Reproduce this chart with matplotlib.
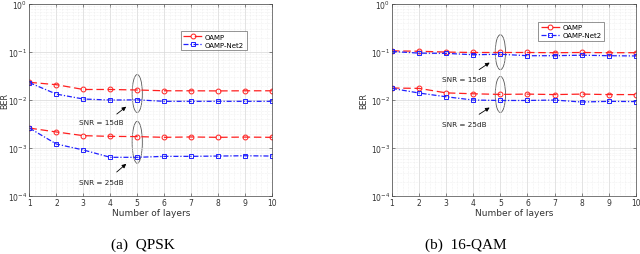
import numpy as np
import matplotlib.pyplot as plt
from matplotlib.patches import Ellipse
from matplotlib.ticker import LogLocator, MultipleLocator, NullFormatter

layers = [1, 2, 3, 4, 5, 6, 7, 8, 9, 10]

# (a) QPSK
qpsk_oamp_15 = [0.0234, 0.0209, 0.0166, 0.0166, 0.0162, 0.0156, 0.0156, 0.0155, 0.0156, 0.0156]
qpsk_net2_15 = [0.0230, 0.0133, 0.0105, 0.0100, 0.0101, 0.0094, 0.0094, 0.0094, 0.0094, 0.0094]
qpsk_oamp_25 = [0.0026, 0.00216, 0.00181, 0.00175, 0.00173, 0.00167, 0.00170, 0.00167, 0.00169, 0.00167]
qpsk_net2_25 = [0.0026, 0.00121, 0.00091, 0.00064, 0.00064, 0.00067, 0.00067, 0.00068, 0.00069, 0.00068]

# (b) 16-QAM
qam_oamp_15 = [0.106, 0.104, 0.100, 0.098, 0.098, 0.098, 0.097, 0.098, 0.097, 0.097]
qam_net2_15 = [0.103, 0.095, 0.094, 0.088, 0.090, 0.084, 0.084, 0.086, 0.084, 0.083]
qam_oamp_25 = [0.0178, 0.0175, 0.0141, 0.0135, 0.0131, 0.0133, 0.0130, 0.0133, 0.0130, 0.0130]
qam_net2_25 = [0.0175, 0.0140, 0.0117, 0.0100, 0.0098, 0.0098, 0.0100, 0.0091, 0.0094, 0.0093]


def style_axis(ax, ylabel_x):
    ax.set_yscale('log')
    ax.set_xlim(1, 10)
    ax.set_ylim(1e-4, 1)
    ax.set_xticks(layers)
    ax.xaxis.set_minor_locator(MultipleLocator(0.2))
    ax.yaxis.set_major_locator(LogLocator(base=10, numticks=10))
    ax.yaxis.set_minor_locator(LogLocator(base=10, subs=np.arange(2, 10), numticks=20))
    ax.yaxis.set_minor_formatter(NullFormatter())
    ax.grid(True, which='major', color='#d8d8d8', lw=0.5, ls='-')
    ax.grid(True, which='minor', color='#e4e4e4', lw=0.4, ls=':')
    ax.tick_params(which='both', direction='in', top=True, right=True,
                   labelsize=5.5, length=2, width=0.4, colors='#333333', pad=1.5)
    ax.tick_params(which='minor', length=0)
    for s in ax.spines.values():
        s.set_linewidth(0.5)
        s.set_color('#444444')
    ax.set_xlabel('Number of layers', fontsize=6.5, color='#333333', labelpad=1)
    ax.set_ylabel('BER', fontsize=5.8, color='#333333')
    ax.yaxis.set_label_coords(ylabel_x, 0.5)


def draw_series(ax, oamp, net2, first):
    kw_o = dict(color='#ff2020', ls=(0, (6, 3)), lw=0.9, marker='o', ms=3.5,
                mfc='none', mew=0.7)
    kw_n = dict(color='#2020ff', ls=(0, (4, 1.5, 1, 1.5)), lw=0.9, marker='s', ms=3,
                mfc='none', mew=0.7)
    ax.plot(layers, oamp, label='OAMP' if first else None, **kw_o)
    ax.plot(layers, net2, label='OAMP-Net2' if first else None, **kw_n)


def ellipse_logy(ax, x, ylo, yhi):
    # ellipse in axes-fraction coordinates so it stays elliptical on log axis
    fx = (x - 1) / 9
    flo = (np.log10(ylo) + 4) / 4
    fhi = (np.log10(yhi) + 4) / 4
    ax.add_patch(Ellipse((fx, (flo + fhi) / 2), width=0.042, height=fhi - flo,
                         transform=ax.transAxes, fill=False, ec='#555555', lw=0.6))


def arrow_label(ax, text, tip, tail, label_xy):
    ax.annotate('', xy=tip, xytext=tail, xycoords='data', textcoords='data',
                arrowprops=dict(arrowstyle='-|>', color='black', lw=0.6,
                                mutation_scale=6))
    ax.text(label_xy[0], label_xy[1], text, fontsize=5.2, ha='center', va='center',
            color='#222222')


fig = plt.figure(figsize=(6.4, 2.55), dpi=100)
ax1 = fig.add_axes([0.046, 0.2275, 0.379, 0.7525])
ax2 = fig.add_axes([0.6125, 0.2275, 0.381, 0.7525])

style_axis(ax1, -0.085)
style_axis(ax2, -0.098)

draw_series(ax1, qpsk_oamp_15, qpsk_net2_15, True)
draw_series(ax1, qpsk_oamp_25, qpsk_net2_25, False)
draw_series(ax2, qam_oamp_15, qam_net2_15, True)
draw_series(ax2, qam_oamp_25, qam_net2_25, False)

# ellipses and arrows, panel (a)
ellipse_logy(ax1, 5, 0.0055, 0.034)
ellipse_logy(ax1, 5, 0.00048, 0.0036)
arrow_label(ax1, 'SNR = 15dB', (4.67, 0.0079), (4.16, 0.0047), (3.68, 0.0035))
arrow_label(ax1, 'SNR = 25dB', (4.67, 0.00051), (4.16, 0.00029), (3.68, 0.000195))

# ellipses and arrows, panel (b)
ellipse_logy(ax2, 5, 0.043, 0.23)
ellipse_logy(ax2, 5, 0.0055, 0.031)
arrow_label(ax2, 'SNR = 15dB', (4.69, 0.065), (4.13, 0.040), (3.66, 0.027))
arrow_label(ax2, 'SNR = 25dB', (4.69, 0.0075), (4.13, 0.0047), (3.66, 0.0032))

for ax, loc in ((ax1, (0.625, 0.76)), (ax2, (0.60, 0.81))):
    leg = ax.legend(loc='lower left', bbox_to_anchor=loc, fontsize=5,
                    frameon=True, fancybox=False, borderpad=0.35, handlelength=2.8,
                    handletextpad=0.3, labelspacing=0.3, borderaxespad=0)
    leg.get_frame().set_edgecolor('#444444')
    leg.get_frame().set_linewidth(0.5)

fig.text(0.224, 0.012, '(a)  QPSK', fontsize=11, family='Liberation Serif',
         ha='center', va='bottom')
fig.text(0.728, 0.012, '(b)  16-QAM', fontsize=11, family='Liberation Serif',
         ha='center', va='bottom')

fig.savefig('out.png', dpi=100)
